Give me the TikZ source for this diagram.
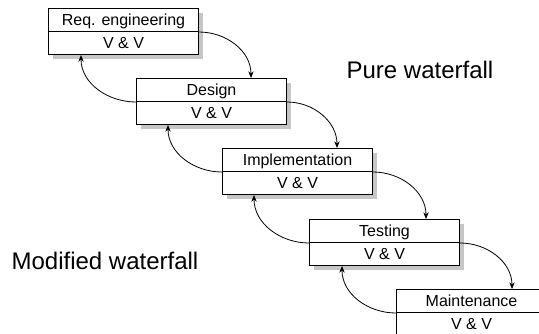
\documentclass[tikz,border=0pt]{standalone}
\usepackage{fontspec}
\setmainfont{Liberation Sans}
\usetikzlibrary{positioning,calc,shadows,arrows.meta}

\tikzset{
	stage/.style={draw, line width=0.75pt, fill=white, inner sep=0pt,
		minimum width=112.5pt, minimum height=17.25pt,
		text height=8.6pt, text depth=0pt,
		font=\fontsize{12pt}{14pt}\selectfont,
		drop shadow={shadow xshift=3.5pt, shadow yshift=-3.5pt, fill=gray!45, opacity=1}},
	flow/.style={line width=0.6pt, -{Stealth[length=5pt,width=4pt]}},
	title/.style={font=\fontsize{18pt}{21pt}\selectfont}
}

\begin{document}
\begin{tikzpicture}[x=0.75pt, y=0.75pt]
		\path[use as bounding box, clip] (0,0) rectangle (539,-333);

		% draw the stages
		\node [stage, anchor=north west] (req) at (48,-8) {Req. engineering};
		\node [stage, below=-0.75pt of req] (reqvv) {V \& V};

		\node [stage, anchor=north west] (des) at (136,-78) {Design};
		\node [stage, below=-0.75pt of des] (desvv) {V \& V};

		\node [stage, anchor=north west] (imp) at (222,-148) {Implementation};
		\node [stage, below=-0.75pt of imp] (impvv) {V \& V};

		\node [stage, anchor=north west] (tst) at (309,-219) {Testing};
		\node [stage, below=-0.75pt of tst] (tstvv) {V \& V};

		\node [stage, anchor=north west] (mnt) at (396,-289) {Maintenance};
		\node [stage, below=-0.75pt of mnt] (mntvv) {V \& V};

		% pure waterfall: down the steps
		\draw [flow] (req.south east) to [out=0, in=90] ($(des.north west)+(115,0)$);
		\draw [flow] (des.south east) to [out=0, in=90] ($(imp.north west)+(115,0)$);
		\draw [flow] (imp.south east) to [out=0, in=90] ($(tst.north west)+(117,0)$);
		\draw [flow] (tst.south east) to [out=0, in=90] ($(mnt.north west)+(116,0)$);

		% modified waterfall: back up the steps
		\draw [flow] (des.south west) to [out=180, in=-90] ($(reqvv.south west)+(33,0)$);
		\draw [flow] (imp.south west) to [out=180, in=-90] ($(desvv.south west)+(32,0)$);
		\draw [flow] (tst.south west) to [out=180, in=-90] ($(impvv.south west)+(32,0)$);
		\draw [flow] (mnt.south west) to [out=180, in=-90] ($(tstvv.south west)+(33,0)$);

		\node [title] (pure) at (420,-70) {Pure waterfall};
		\node [title] (modified) at (105,-261) {Modified waterfall};
\end{tikzpicture}
\end{document}
